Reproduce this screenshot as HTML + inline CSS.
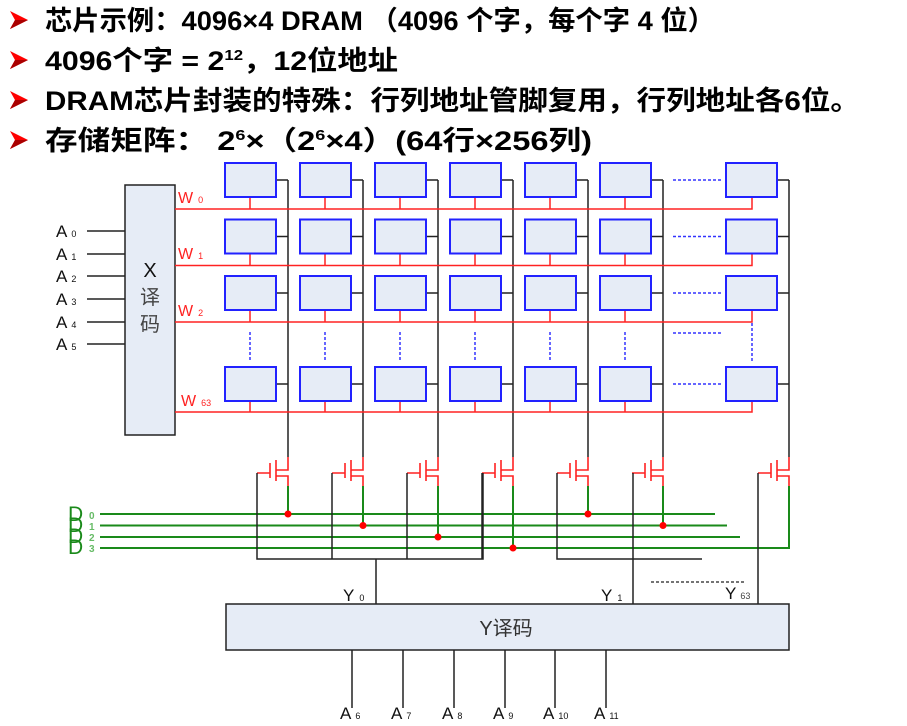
<!DOCTYPE html>
<html><head><meta charset="utf-8"><style>
body{margin:0;background:#fff;width:907px;height:726px;overflow:hidden}
svg{display:block}
.h{font-family:"Liberation Sans","Noto Sans CJK SC",sans-serif;font-size:27px;fill:#000;font-weight:bold}
.l{font-family:"Liberation Sans","Noto Sans CJK SC",sans-serif;fill:#111}
</style></head><body>
<svg width="907" height="726" viewBox="0 0 907 726" xmlns="http://www.w3.org/2000/svg">
<defs><g id="bul"><polygon points="0,-9 18,0 0,9 5,0" fill="#f00"/><polygon points="0,9 18,0 5,0" fill="#a00"/></g></defs>
<use href="#bul" x="10" y="20"/><use href="#bul" x="10" y="60"/><use href="#bul" x="10" y="100"/><use href="#bul" x="10" y="140"/>
<g class="h">
<text x="45" y="30" textLength="670" lengthAdjust="spacingAndGlyphs">芯片示例：4096×4 DRAM （4096 个字，每个字 4 位）</text>
<text x="45" y="70" textLength="353" lengthAdjust="spacingAndGlyphs">4096个字 = 2<tspan font-size="15" dy="-10">12</tspan><tspan dy="10">，12位地址</tspan></text>
<text x="45" y="110" textLength="815" lengthAdjust="spacingAndGlyphs">DRAM芯片封装的特殊：行列地址管脚复用，行列地址各6位。</text>
<text x="45" y="150" textLength="547" lengthAdjust="spacingAndGlyphs">存储矩阵： 2<tspan font-size="15" dy="-10">6</tspan><tspan dy="10">×（2</tspan><tspan font-size="15" dy="-10">6</tspan><tspan dy="10">×4）(64行×256列)</tspan></text>
</g>

<rect x="125" y="185" width="50" height="250" fill="#e6ecf6" stroke="#222" stroke-width="1.5"/>
<text x="150" y="277" class="l" font-size="20" text-anchor="middle">X</text>
<text x="150" y="304" class="l" font-size="20" text-anchor="middle" style="fill:#444">译</text>
<text x="150" y="331" class="l" font-size="20" text-anchor="middle" style="fill:#444">码</text>
<g stroke="#222" stroke-width="1.5">
<line x1="87" y1="231" x2="125" y2="231"/><line x1="87" y1="254" x2="125" y2="254"/>
<line x1="87" y1="276" x2="125" y2="276"/><line x1="87" y1="299" x2="125" y2="299"/>
<line x1="87" y1="322" x2="125" y2="322"/><line x1="87" y1="344" x2="125" y2="344"/>
</g>
<g class="l" font-size="17">
<text x="56" y="237">A<tspan font-size="9" dx="4">0</tspan></text>
<text x="56" y="260">A<tspan font-size="9" dx="4">1</tspan></text>
<text x="56" y="282">A<tspan font-size="9" dx="4">2</tspan></text>
<text x="56" y="305">A<tspan font-size="9" dx="4">3</tspan></text>
<text x="56" y="328">A<tspan font-size="9" dx="4">4</tspan></text>
<text x="56" y="350">A<tspan font-size="9" dx="4">5</tspan></text>
</g>
<g font-family="Liberation Sans,sans-serif" fill="#f22" font-size="16">
<text x="178" y="203">W<tspan font-size="9" dx="5">0</tspan></text>
<text x="178" y="259">W<tspan font-size="9" dx="5">1</tspan></text>
<text x="178" y="316">W<tspan font-size="9" dx="5">2</tspan></text>
<text x="181" y="406">W<tspan font-size="9" dx="5">63</tspan></text>
</g>

<g stroke="#222" stroke-width="1.5" fill="none">
<path d="M288 180V457M363 180V457M438 180V457M513 180V457M588 180V457M663 180V457M789 180V457"/>
<path d="M276 180H288M351 180H363M426 180H438M501 180H513M576 180H588M651 180H663M777 180H789"/>
<path d="M276 236.5H288M351 236.5H363M426 236.5H438M501 236.5H513M576 236.5H588M651 236.5H663M777 236.5H789"/>
<path d="M276 293H288M351 293H363M426 293H438M501 293H513M576 293H588M651 293H663M777 293H789"/>
<path d="M276 384H288M351 384H363M426 384H438M501 384H513M576 384H588M651 384H663M777 384H789"/>
</g>

<g stroke="#f22" stroke-width="1.5" fill="none">
<path d="M175 209H752V197M175 265.5H752V253M175 322H752V310M175 412H752V401"/>
<path d="M250 197V209M325 197V209M400 197V209M475 197V209M550 197V209M625 197V209"/>
<path d="M250 253V265M325 253V265M400 253V265M475 253V265M550 253V265M625 253V265"/>
<path d="M250 310V322M325 310V322M400 310V322M475 310V322M550 310V322M625 310V322"/>
<path d="M250 401V412M325 401V412M400 401V412M475 401V412M550 401V412M625 401V412"/>
</g>

<g fill="#e6ecf6" stroke="#22f" stroke-width="2">
<g id="row"><rect x="225" y="163" width="51" height="34"/><rect x="300" y="163" width="51" height="34"/><rect x="375" y="163" width="51" height="34"/><rect x="450" y="163" width="51" height="34"/><rect x="525" y="163" width="51" height="34"/><rect x="600" y="163" width="51" height="34"/><rect x="726" y="163" width="51" height="34"/></g>
<use href="#row" y="56.5"/><use href="#row" y="113"/><use href="#row" y="204"/>
</g>
<g stroke="#33f" stroke-width="1.5" stroke-dasharray="3,2" fill="none">
<path d="M673 180H722M673 236.5H722M673 293H722M673 333H722M673 384H722"/>
<path d="M250 332V362M325 332V362M400 332V362M475 332V362M550 332V362M625 332V362M752 323V362"/>
</g>

<defs>
<g id="tr">
<path d="M0 457V470H-12M-12 460V481M-18 463V478M-31 473H-18M-12 476H0V486" stroke="#f22" stroke-width="1.6" fill="none"/>
</g>
</defs>
<use href="#tr" x="288"/><use href="#tr" x="363"/><use href="#tr" x="438"/><use href="#tr" x="513"/><use href="#tr" x="588"/><use href="#tr" x="663"/><use href="#tr" x="789"/>

<g stroke="#1a8a1a" stroke-width="2" fill="none">
<path d="M100 514H715M100 525.5H727M100 537H740M100 548H789V486"/>
<path d="M288 486V514M363 486V525.5M438 486V537M513 486V548M588 486V514M663 486V525.5"/>
</g>
<g fill="#f00">
<circle cx="288" cy="514" r="3.5"/><circle cx="363" cy="525.5" r="3.5"/><circle cx="438" cy="537" r="3.5"/><circle cx="513" cy="548" r="3.5"/><circle cx="588" cy="514" r="3.5"/><circle cx="663" cy="525.5" r="3.5"/>
</g>
<g font-family="Liberation Sans,sans-serif" fill="#1a8a1a" font-size="21">
<text x="68" y="521">D</text><text x="68" y="532">D</text><text x="68" y="543">D</text><text x="68" y="554">D</text>
</g>
<g font-family="Liberation Sans,sans-serif" fill="#6b6" font-size="10" font-weight="bold">
<text x="89" y="519">0</text><text x="89" y="530">1</text><text x="89" y="541">2</text><text x="89" y="552">3</text>
</g>

<g stroke="#222" stroke-width="1.5" fill="none">
<path d="M257 473V559H483V473M332 473V559M407 473V559M376 559V604"/>
<path d="M557 473V559H702M482 473V559"/>
<path d="M633 473V604M758 473V604"/>
<path d="M651 582H746" stroke-dasharray="3,2" stroke-width="1.2"/>
</g>
<g class="l" font-size="17">
<text x="343" y="601">Y<tspan font-size="9" dx="5">0</tspan></text>
<text x="601" y="601">Y<tspan font-size="9" dx="5">1</tspan></text>
<text x="725" y="599">Y<tspan font-size="9" dx="4" style="fill:#444">63</tspan></text>
</g>

<rect x="226" y="604" width="563" height="46" fill="#e6ecf6" stroke="#222" stroke-width="1.5"/>
<text x="506" y="635" class="l" font-size="20" text-anchor="middle" style="fill:#333">Y译码</text>
<g stroke="#222" stroke-width="1.5">
<path d="M352 650V708M403 650V708M454 650V708M505 650V708M555 650V708M606 650V708"/>
</g>
<g class="l" font-size="17">
<text x="340" y="719">A<tspan font-size="9" dx="4">6</tspan></text>
<text x="391" y="719">A<tspan font-size="9" dx="4">7</tspan></text>
<text x="442" y="719">A<tspan font-size="9" dx="4">8</tspan></text>
<text x="493" y="719">A<tspan font-size="9" dx="4">9</tspan></text>
<text x="543" y="719">A<tspan font-size="9" dx="4">10</tspan></text>
<text x="594" y="719">A<tspan font-size="9" dx="4">11</tspan></text>
</g>
</svg>
</body></html>
